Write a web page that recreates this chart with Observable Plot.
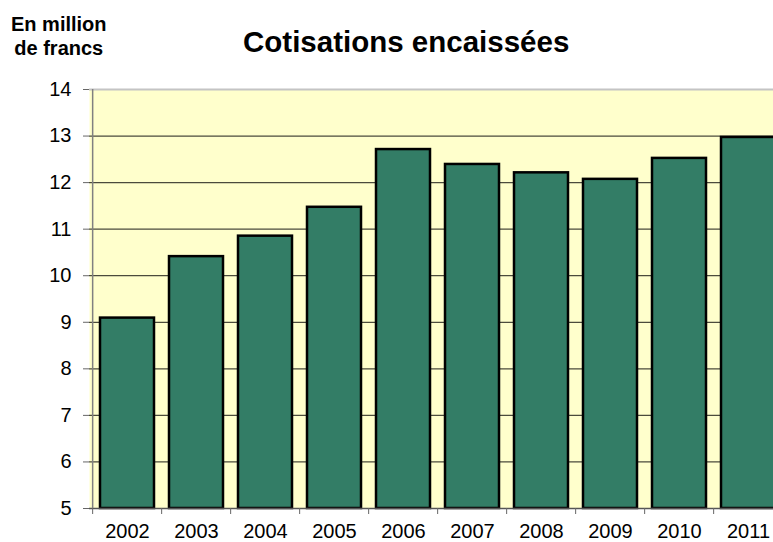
<!DOCTYPE html>
<html><head><meta charset="utf-8">
<script src="https://cdn.jsdelivr.net/npm/d3@7"></script>
<script src="https://cdn.jsdelivr.net/npm/@observablehq/plot@0.6"></script>
<style>
body{margin:0;background:#fff;overflow:hidden}
#wrap{position:relative;width:773px;height:542px;overflow:hidden;font-family:"Liberation Sans",Arial,sans-serif;background:#fff}
#chart{position:absolute;left:0;top:0;width:786px}
#chart svg{max-width:none!important}
.t{position:absolute;font-weight:bold;color:#000;white-space:nowrap}
</style></head><body>
<div id="wrap">
<div id="chart"></div>
<div class="t" style="left:243px;top:25px;font-size:29.5px;line-height:34px">Cotisations encaissées</div>
<div class="t" style="left:11px;top:12px;font-size:20px;line-height:24px;text-align:center">En million<br>de francs</div>
</div>
<script>
const years = ["2002","2003","2004","2005","2006","2007","2008","2009","2010","2011"];
const values = [9.09, 10.41, 10.85, 11.47, 12.71, 12.39, 12.21, 12.07, 12.52, 12.97];
const yTicks = [5,6,7,8,9,10,11,12,13,14];

const data = years.map((year, i) => ({year, value: values[i]}));
const W = 786, ML = 89;
const step = (W - ML) / years.length;

const chart = Plot.plot({
  width: W, height: 542,
  marginLeft: ML, marginRight: 0, marginTop: 89, marginBottom: 34,
  style: {fontFamily: "'Liberation Sans', Arial, sans-serif", fontSize: "20px", color: "#000", background: "transparent", overflow: "visible", maxWidth: "none"},
  x: {domain: years, paddingInner: 0.22, paddingOuter: 0.11, label: null},
  y: {domain: [5, 14], label: null},
  marks: [
    Plot.frame({fill: "#ffffcc", stroke: null}),
    Plot.ruleY(yTicks.filter(t => t > 5 && t < 14), {stroke: "#4b4b3c", strokeWidth: 1.3}),
    Plot.ruleY([14], {stroke: "#c4c4c4", strokeWidth: 2}),
    Plot.barY(data, {x: "year", y1: 5, y2: "value", fill: "#337d66", stroke: "#000", strokeWidth: 2.5}),
    Plot.ruleY([5], {stroke: "#555", strokeWidth: 1.5}),
    Plot.ruleX([years[0]], {y1: 5, y2: 14, dx: -step / 2, stroke: "#808080", strokeWidth: 1.5}),
    Plot.axisY({ticks: yTicks, tickSize: 6, tickPadding: 12, stroke: "#666", fontSize: 20}),
    Plot.axisX({ticks: years, tickSize: 6, tickFormat: () => "", dx: -step / 2, stroke: "#666"}),
    Plot.axisX({ticks: years, tickSize: 0, tickPadding: 15, fontSize: 20})
  ]
});
document.getElementById("chart").appendChild(chart);
</script>
</body></html>
